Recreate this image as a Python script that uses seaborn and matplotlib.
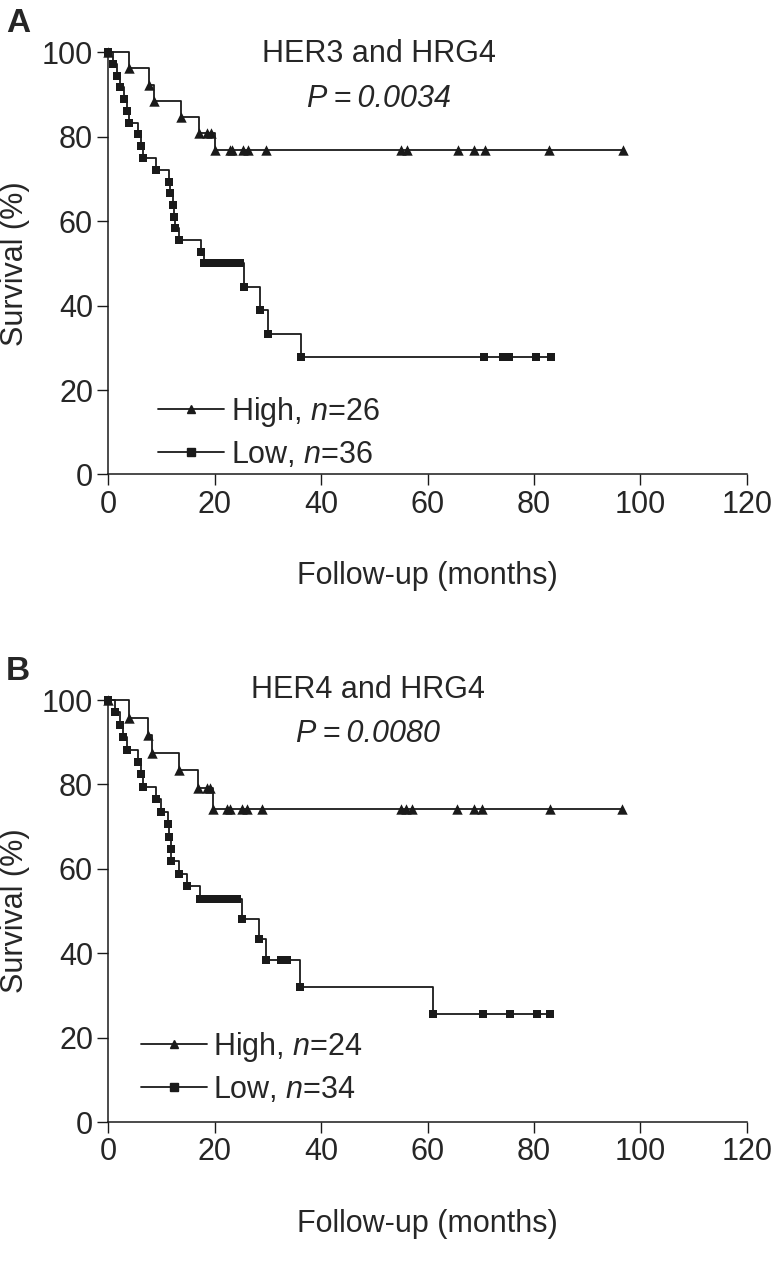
import numpy as np
import pandas as pd
import seaborn as sns
import matplotlib
matplotlib.use("Agg")
import matplotlib.pyplot as plt
from matplotlib.lines import Line2D

# ---- data (months, % surviving) ----
a_high_t = [0, 3.95, 7.7, 8.5, 13.7, 17.0, 20.1]
a_high_s = [100, 96.2, 92.3, 88.5, 84.6, 80.8, 76.9]
a_high_cens = [18.6, 19.3, 22.9, 23.2, 25.4, 26.3, 29.6, 55.0, 56.2, 65.7,
               68.7, 70.8, 82.8, 96.7]

a_low_t = [0, 0.95, 1.6, 2.2, 3.0, 3.6, 3.9, 5.6, 6.2, 6.6, 9.0, 11.5, 11.65,
           12.1, 12.35, 12.6, 13.3, 17.4, 18.0, 25.5, 28.6, 30.1, 36.3]
a_low_s = [100, 97.2, 94.4, 91.7, 88.9, 86.1, 83.3, 80.6, 77.8, 75.0, 72.2,
           69.4, 66.7, 63.9, 61.1, 58.3, 55.6, 52.8, 50.0, 44.4, 38.9, 33.3, 27.8]
a_low_cens = [18.6, 19.3, 20.0, 20.7, 21.4, 22.1, 22.8, 23.5, 24.7, 70.7,
              74.2, 75.4, 80.4, 83.3]

b_high_t = [0, 3.9, 7.4, 8.2, 13.2, 16.8, 19.7]
b_high_s = [100, 95.8, 91.7, 87.5, 83.3, 79.2, 74.2]
b_high_cens = [18.6, 19.2, 22.3, 22.9, 25.1, 26.0, 28.9, 55.0, 56.0, 57.0,
               65.5, 68.7, 70.3, 83.0, 96.5]

b_low_t = [0, 1.26, 2.2, 2.8, 3.5, 5.5, 6.1, 6.5, 8.9, 9.9, 11.3, 11.5, 11.7,
           11.8, 13.2, 14.8, 17.3, 25.1, 28.3, 29.6, 36.0, 61.0]
b_low_s = [100, 97.1, 94.1, 91.2, 88.2, 85.3, 82.4, 79.4, 76.5, 73.5, 70.6,
           67.6, 64.7, 61.8, 58.8, 55.9, 52.9, 48.1, 43.3, 38.5, 32.1, 25.7]
b_low_cens = [18.2, 19.2, 20.2, 21.2, 22.2, 23.2, 24.2, 32.4, 33.6, 70.5,
              75.5, 80.5, 83.0]

panel_titles = ["HER3 and HRG4", "HER4 and HRG4"]
p_values = ["0.0034", "0.0080"]
n_high = [26, 24]
n_low = [36, 34]
x_ticks = [0, 20, 40, 60, 80, 100, 120]
y_ticks = [0, 20, 40, 60, 80, 100]

sns.set_theme(style="ticks")
plt.rcParams['font.family'] = ['Liberation Sans', 'DejaVu Sans']
plt.rcParams['mathtext.fontset'] = 'custom'
plt.rcParams['mathtext.it'] = 'Liberation Sans:italic'
plt.rcParams['mathtext.rm'] = 'Liberation Sans'
FS = 22


def level_at(t, s, x):
    idx = np.searchsorted(np.array(t), x, side='right') - 1
    return np.array(s)[idx]


def draw_group(ax, t, s, cens, marker, ms):
    line = pd.DataFrame({"time": t + [max(cens)], "surv": s + [s[-1]]})
    sns.lineplot(data=line, x="time", y="surv", ax=ax, color="k",
                 linewidth=1.3, drawstyle="steps-post", estimator=None,
                 sort=False, clip_on=False)
    pts = pd.DataFrame({"time": t + cens,
                        "surv": list(s) + list(level_at(t, s, cens))})
    sns.scatterplot(data=pts, x="time", y="surv", ax=ax, color="k",
                    marker=marker, s=ms ** 2, linewidth=0, clip_on=False,
                    zorder=3)


fig = plt.figure(figsize=(7.73, 12.73), dpi=100)
ax_a = fig.add_axes([0.1401, 0.6273, 0.8259, 0.3315])
ax_b = fig.add_axes([0.1401, 0.1186, 0.8259, 0.3315])

groups = [
    (ax_a, a_high_t, a_high_s, a_high_cens, a_low_t, a_low_s, a_low_cens),
    (ax_b, b_high_t, b_high_s, b_high_cens, b_low_t, b_low_s, b_low_cens),
]
title_pos = [(50.8, 99.6, 88.9), (48.8, 102.4, 92.0)]
legend_pos = [(0.078, 0.10), (0.051, 0.13)]

for i, (ax, ht, hs, hc, lt, ls, lc) in enumerate(groups):
    draw_group(ax, ht, hs, hc, "^", 7.5)
    draw_group(ax, lt, ls, lc, "s", 6.3)
    ax.set_xlim(0, 120)
    ax.set_ylim(0, 100)
    ax.set_xticks(x_ticks)
    ax.set_yticks(y_ticks)
    ax.tick_params(direction="out", length=8, width=1, labelsize=FS, pad=3,
                   color="k")
    for sp in ["top", "right"]:
        ax.spines[sp].set_visible(False)
    for sp in ["left", "bottom"]:
        ax.spines[sp].set_linewidth(1.1)
        ax.spines[sp].set_color("k")
    ax.set_xlabel("Follow-up (months)", fontsize=FS)
    ax.set_ylabel("Survival (%)", fontsize=FS)
    ax.xaxis.set_label_coords(0.5, -0.205)
    ax.yaxis.set_label_coords(-0.122, 0.5)

    tx, ty, py = title_pos[i]
    ax.text(tx, ty, panel_titles[i], ha="center", va="center", fontsize=FS)
    ax.text(tx, py, "P\u2009=\u2009" + p_values[i], ha="center", va="center",
            fontsize=FS, fontstyle="italic")

    handles = [
        Line2D([], [], color="k", lw=1.3, marker="^", ms=5.5),
        Line2D([], [], color="k", lw=1.3, marker="s", ms=5.5),
    ]
    labels = ["High, $n$=%d" % n_high[i], "Low, $n$=%d" % n_low[i]]
    lx, ly = legend_pos[i]
    ax.legend(handles, labels, loc="center left", bbox_to_anchor=(lx, ly),
              frameon=False, fontsize=FS, handlelength=2.15,
              handletextpad=0.22, labelspacing=0.35, borderpad=0,
              borderaxespad=0, numpoints=1)

fig.text(0.008, 1 - 24 / 1273, "A", fontsize=24, fontweight="bold",
         va="center", ha="left")
fig.text(0.008, 1 - 672 / 1273, "B", fontsize=24, fontweight="bold",
         va="center", ha="left")

fig.savefig("out.png", dpi=100, facecolor="white")
